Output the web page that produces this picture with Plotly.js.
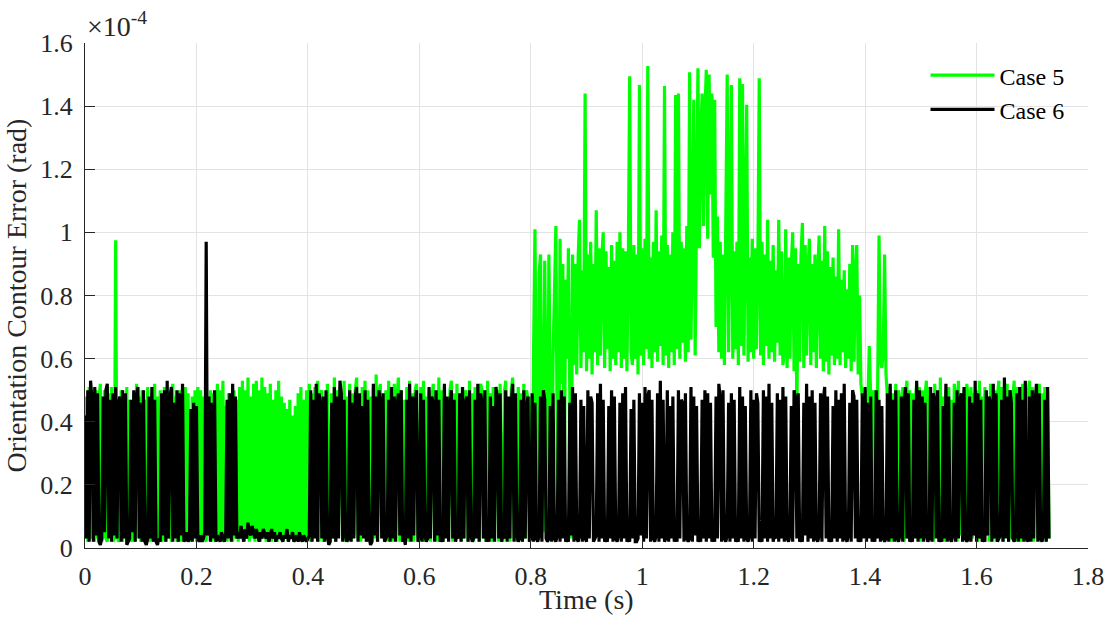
<!DOCTYPE html>
<html>
<head>
<meta charset="utf-8">
<script src="https://cdn.plot.ly/plotly-3.0.1.min.js"></script>
<style>
html,body{margin:0;padding:0;background:#fff;}
#chart{width:1112px;height:634px;}
#chart text{font-family:"Liberation Serif","Times New Roman",serif !important;}
</style>
</head>
<body>
<div id="chart"></div>
<script>
// Sampling interval of the recorded signals (s)
const sampleStep = 0.0025;

// Case 5 orientation contour error, in units of 1e-4 rad (one row = 0.05 s)
const case5 = [
0.03,0.48,0.02,0.51,0.04,0.03,0.49,0.02,0.50,0.03,0.47,0.52,0.02,0.04,0.50,0.03,0.02,0.49,0.04,0.51,
0.02,0.03,0.975,0.04,0.02,0.03,0.50,0.02,0.48,0.03,0.51,0.04,0.47,0.02,0.03,0.49,0.02,0.52,0.03,0.48,
0.02,0.50,0.04,0.47,0.03,0.51,0.02,0.03,0.49,0.02,0.52,0.04,0.48,0.03,0.50,0.02,0.03,0.51,0.02,0.47,
0.03,0.49,0.02,0.52,0.04,0.48,0.02,0.03,0.50,0.02,0.47,0.03,0.51,0.02,0.49,0.04,0.02,0.48,0.03,0.50,
0.02,0.51,0.03,0.50,0.02,0.48,0.03,0.02,0.47,0.04,0.50,0.02,0.49,0.03,0.02,0.52,0.03,0.50,0.02,0.53,
0.03,0.45,0.02,0.49,0.04,0.46,0.02,0.50,0.03,0.47,0.02,0.51,0.04,0.53,0.02,0.50,0.03,0.54,0.02,0.48,
0.03,0.52,0.02,0.53,0.04,0.50,0.02,0.54,0.03,0.51,0.02,0.49,0.04,0.52,0.02,0.47,0.03,0.50,0.02,0.53,
0.04,0.48,0.02,0.46,0.03,0.44,0.02,0.47,0.04,0.42,0.02,0.45,0.03,0.49,0.02,0.51,0.04,0.47,0.02,0.50,
0.03,0.52,0.02,0.49,0.04,0.51,0.03,0.53,0.02,0.48,0.50,0.02,0.47,0.03,0.52,0.04,0.02,0.49,0.03,0.54,
0.02,0.50,0.04,0.51,0.47,0.03,0.53,0.02,0.48,0.03,0.52,0.02,0.49,0.04,0.50,0.54,0.03,0.47,0.02,0.51,
0.04,0.53,0.02,0.50,0.03,0.48,0.02,0.51,0.03,0.55,0.02,0.49,0.52,0.04,0.47,0.03,0.50,0.02,0.53,0.03,
0.49,0.02,0.52,0.03,0.48,0.54,0.02,0.50,0.04,0.47,0.03,0.51,0.02,0.53,0.03,0.49,0.02,0.50,0.52,0.04,
0.02,0.51,0.03,0.53,0.02,0.48,0.04,0.50,0.02,0.47,0.52,0.03,0.49,0.02,0.54,0.03,0.50,0.02,0.51,0.04,
0.47,0.03,0.50,0.53,0.02,0.49,0.03,0.52,0.04,0.48,0.02,0.51,0.03,0.50,0.47,0.02,0.53,0.03,0.49,0.02,
0.51,0.04,0.48,0.02,0.52,0.50,0.03,0.47,0.02,0.53,0.04,0.49,0.02,0.51,0.03,0.48,0.50,0.02,0.52,0.03,
0.02,0.49,0.53,0.03,0.47,0.02,0.50,0.54,0.03,0.48,0.02,0.51,0.04,0.49,0.02,0.52,0.03,0.50,0.47,0.03,
0.48,0.03,0.62,1.01,0.45,0.08,0.87,0.93,0.40,0.05,0.91,0.55,0.04,0.93,0.50,0.06,0.60,0.88,1.02,0.30,
0.04,0.98,0.52,0.90,0.08,0.85,0.60,0.95,0.48,0.03,0.93,0.58,0.90,0.55,0.92,1.04,0.57,0.88,0.62,1.44,
0.56,0.93,0.60,0.97,0.55,0.90,0.62,1.07,0.58,0.95,0.61,0.92,1.00,0.57,0.94,0.63,0.89,0.56,0.96,0.60,
0.91,0.58,0.97,0.62,1.00,0.57,0.95,0.60,0.94,0.56,0.90,1.495,0.62,0.58,0.96,0.60,0.93,0.55,1.467,0.61,
0.95,0.58,0.98,0.63,1.527,0.60,0.92,0.57,0.97,0.62,1.07,0.59,0.94,0.64,0.99,0.58,1.464,0.61,0.96,0.57,
0.93,0.62,1.00,0.58,1.435,0.63,1.44,0.60,0.97,0.65,0.95,0.59,1.02,0.62,1.507,0.66,0.98,1.42,0.61,1.05,
1.52,0.95,1.30,1.44,1.02,1.38,1.515,0.98,1.50,1.12,1.44,0.92,1.42,0.70,1.05,0.62,0.97,0.60,0.93,0.58,
0.95,1.50,0.62,0.99,1.467,0.60,0.94,0.63,0.97,0.58,1.488,0.64,1.47,0.61,0.96,1.404,0.59,0.92,0.62,0.98,
0.60,0.95,0.63,0.90,1.488,0.61,0.97,0.58,0.93,0.64,1.04,0.60,0.91,0.62,0.96,0.59,0.88,0.65,1.04,0.61,
0.94,0.58,0.62,1.01,0.57,0.92,0.60,0.89,1.00,0.56,0.95,0.42,0.90,0.59,0.93,1.03,0.57,0.96,0.61,0.88,
0.98,0.58,0.90,0.62,0.93,0.57,0.87,0.99,0.60,0.91,0.56,1.02,0.59,0.94,0.55,0.89,0.61,0.92,0.58,0.86,
0.60,1.01,0.58,0.85,0.62,0.88,0.57,0.82,0.60,0.90,0.56,0.96,0.59,0.87,0.96,0.55,0.80,0.52,0.48,0.45,
0.04,0.50,0.46,0.64,0.48,0.03,0.50,0.47,0.03,0.55,0.99,0.60,0.57,0.62,0.93,0.55,0.48,0.03,0.51,0.02,
0.49,0.03,0.52,0.02,0.50,0.47,0.04,0.51,0.02,0.48,0.53,0.03,0.50,0.02,0.49,0.04,0.47,0.52,0.03,0.51,
0.02,0.50,0.04,0.48,0.53,0.02,0.51,0.03,0.47,0.02,0.52,0.04,0.49,0.02,0.54,0.03,0.48,0.02,0.50,0.03,
0.51,0.02,0.47,0.03,0.52,0.49,0.02,0.53,0.04,0.48,0.02,0.50,0.03,0.52,0.47,0.02,0.51,0.03,0.49,0.04,
0.50,0.02,0.53,0.03,0.48,0.02,0.51,0.04,0.47,0.02,0.52,0.49,0.03,0.50,0.02,0.48,0.53,0.03,0.51,0.02,
0.49,0.04,0.52,0.02,0.50,0.03,0.47,0.53,0.02,0.51,0.04,0.48,0.02,0.52,0.03,0.50,0.02,0.49,0.53,0.03,
0.51,0.02,0.48,0.50,0.03,0.52,0.02,0.49,0.04,0.51,0.02,0.50,0.03
];

// Case 6 orientation contour error, in units of 1e-4 rad (one row = 0.05 s)
const case6 = [
0.42,0.03,0.50,0.02,0.53,0.47,0.02,0.51,0.04,0.49,0.02,0.01,0.03,0.48,0.05,0.50,0.52,0.03,0.47,0.02,
0.49,0.04,0.51,0.03,0.46,0.48,0.02,0.50,0.03,0.49,0.01,0.02,0.03,0.47,0.05,0.50,0.02,0.48,0.51,0.03,
0.46,0.02,0.50,0.02,0.01,0.03,0.48,0.03,0.51,0.02,0.47,0.02,0.01,0.03,0.02,0.49,0.04,0.50,0.02,0.53,
0.03,0.48,0.51,0.02,0.46,0.03,0.50,0.02,0.49,0.04,0.52,0.02,0.03,0.05,0.02,0.03,0.44,0.02,0.46,0.03,
0.45,0.03,0.02,0.04,0.02,0.03,0.05,0.97,0.04,0.48,0.02,0.46,0.03,0.50,0.02,0.04,0.03,0.02,0.05,0.03,
0.02,0.04,0.47,0.03,0.49,0.02,0.52,0.04,0.48,0.03,0.05,0.03,0.07,0.04,0.02,0.06,0.03,0.08,0.05,0.04,
0.07,0.05,0.03,0.06,0.04,0.02,0.05,0.03,0.06,0.04,0.03,0.05,0.02,0.04,0.06,0.03,0.05,0.02,0.04,0.03,
0.05,0.03,0.02,0.04,0.03,0.06,0.02,0.04,0.03,0.05,0.02,0.03,0.04,0.02,0.05,0.03,0.02,0.04,0.03,0.02,
0.03,0.04,0.50,0.02,0.47,0.03,0.52,0.02,0.49,0.45,0.03,0.48,0.02,0.50,0.04,0.01,0.02,0.46,0.03,0.51,
0.02,0.48,0.03,0.53,0.49,0.02,0.47,0.04,0.02,0.03,0.50,0.02,0.46,0.03,0.48,0.51,0.02,0.49,0.04,0.45,
0.03,0.50,0.02,0.47,0.03,0.01,0.02,0.52,0.04,0.48,0.02,0.50,0.46,0.03,0.49,0.02,0.03,0.04,0.47,0.02,
0.51,0.03,0.48,0.02,0.45,0.49,0.04,0.50,0.02,0.03,0.01,0.47,0.03,0.52,0.02,0.48,0.04,0.46,0.50,0.02,
0.03,0.49,0.02,0.47,0.04,0.02,0.03,0.51,0.03,0.48,0.46,0.02,0.50,0.04,0.47,0.02,0.03,0.02,0.52,0.03,
0.48,0.02,0.45,0.50,0.03,0.47,0.02,0.04,0.03,0.49,0.02,0.51,0.03,0.46,0.48,0.02,0.50,0.04,0.02,0.03,
0.47,0.03,0.52,0.02,0.49,0.46,0.03,0.50,0.02,0.04,0.02,0.48,0.03,0.45,0.02,0.51,0.47,0.03,0.49,0.02,
0.04,0.03,0.50,0.02,0.48,0.03,0.46,0.52,0.02,0.49,0.04,0.02,0.03,0.47,0.02,0.50,0.03,0.45,0.48,0.02,
0.03,0.49,0.02,0.46,0.03,0.02,0.04,0.48,0.02,0.50,0.47,0.03,0.02,0.03,0.45,0.02,0.49,0.03,0.02,0.04,
0.47,0.02,0.50,0.03,0.48,0.02,0.03,0.02,0.46,0.04,0.51,0.02,0.49,0.03,0.02,0.04,0.47,0.02,0.45,0.03,
0.02,0.50,0.03,0.48,0.46,0.02,0.03,0.04,0.49,0.02,0.52,0.03,0.47,0.02,0.03,0.02,0.45,0.03,0.50,0.02,
0.48,0.03,0.02,0.04,0.46,0.02,0.49,0.03,0.51,0.02,0.03,0.02,0.44,0.03,0.47,0.02,0.02,0.03,0.49,0.04,
0.46,0.02,0.51,0.03,0.48,0.50,0.02,0.47,0.03,0.02,0.04,0.49,0.02,0.53,0.03,0.47,0.02,0.03,0.50,0.02,
0.45,0.03,0.48,0.02,0.04,0.02,0.50,0.03,0.47,0.46,0.02,0.49,0.03,0.02,0.03,0.51,0.02,0.48,0.04,0.45,
0.02,0.03,0.02,0.47,0.03,0.50,0.02,0.49,0.03,0.46,0.02,0.04,0.02,0.48,0.03,0.52,0.47,0.02,0.50,0.03,
0.02,0.04,0.46,0.02,0.49,0.03,0.47,0.02,0.03,0.02,0.51,0.03,0.48,0.02,0.45,0.03,0.02,0.04,0.50,0.02,
0.47,0.03,0.49,0.46,0.02,0.03,0.02,0.50,0.03,0.48,0.02,0.52,0.03,0.46,0.02,0.04,0.03,0.49,0.02,0.47,
0.03,0.51,0.02,0.48,0.03,0.02,0.04,0.45,0.02,0.50,0.47,0.03,0.49,0.02,0.03,0.02,0.46,0.04,0.52,0.02,
0.48,0.03,0.50,0.02,0.46,0.03,0.02,0.04,0.49,0.02,0.47,0.51,0.03,0.48,0.02,0.03,0.02,0.45,0.03,0.50,
0.02,0.47,0.03,0.49,0.02,0.52,0.03,0.02,0.04,0.46,0.02,0.50,0.48,0.03,0.47,0.02,0.03,0.02,0.49,0.03,
0.51,0.02,0.46,0.03,0.48,0.02,0.04,0.02,0.50,0.03,0.47,0.02,0.45,0.03,0.02,0.03,0.49,0.02,0.52,0.03,
0.47,0.02,0.50,0.03,0.02,0.04,0.48,0.02,0.46,0.51,0.03,0.49,0.02,0.03,0.02,0.47,0.03,0.53,0.02,0.50,
0.03,0.48,0.02,0.46,0.04,0.02,0.03,0.51,0.02,0.49,0.47,0.03,0.50,0.02,0.03,0.02,0.45,0.03,0.52,0.02,
0.48,0.03,0.02,0.04,0.46,0.02,0.50,0.03,0.47,0.49,0.02,0.51,0.03,0.02,0.03,0.48,0.02,0.46,0.04,0.53,
0.02,0.49,0.03,0.47,0.02,0.03,0.02,0.50,0.04,0.48,0.46,0.02,0.52,0.03,0.49,0.02,0.03,0.04,0.47,0.02,
0.54,0.03,0.48,0.02,0.50,0.46,0.03,0.02,0.04,0.49,0.02,0.51,0.03,0.47,0.02,0.53,0.03,0.02,0.48,0.02,
0.50,0.03,0.46,0.52,0.02,0.49,0.03,0.02,0.04,0.47,0.02,0.51,0.03
];

const seriesNames = ["Case 5", "Case 6"];
const seriesColors = ["#00ff00", "#000000"];
const xTickVals = [0,0.2,0.4,0.6,0.8,1,1.2,1.4,1.6,1.8];
const xTickText = ["0","0.2","0.4","0.6","0.8","1","1.2","1.4","1.6","1.8"];
const yTickVals = [0,0.2,0.4,0.6,0.8,1,1.2,1.4,1.6];
const yTickText = ["0","0.2","0.4","0.6","0.8","1","1.2","1.4","1.6"];
const xTitle = "Time (s)";
const yTitle = "Orientation Contour Error (rad)";

function timeAxis(n){ const t=[]; for(let i=0;i<n;i++) t.push(+(i*sampleStep).toFixed(5)); return t; }

const font = "Liberation Serif";
const traces = [case5, case6].map((vals, k) => ({
  x: timeAxis(vals.length), y: vals, name: seriesNames[k], type: "scatter", mode: "lines",
  line: {color: seriesColors[k], width: 3.2}
}));

const axisCommon = {
  showgrid: true, gridcolor: "#e3e3e3", gridwidth: 1,
  zeroline: false, showline: true, linecolor: "#262626", linewidth: 1,
  ticks: "inside", ticklen: 10, tickcolor: "#262626", tickwidth: 1,
  tickfont: {family: font, size: 26, color: "#262626"}, mirror: false, automargin: false
};

const layout = {
  width: 1112, height: 634,
  font: {family: font, size: 24, color: "#262626"},
  margin: {l: 85, r: 24, t: 43, b: 86},
  paper_bgcolor: "#ffffff", plot_bgcolor: "#ffffff",
  showlegend: true,
  legend: {x: 0.838, y: 0.98, xanchor: "left", yanchor: "top",
    bgcolor: "rgba(255,255,255,0)", borderwidth: 0,
    font: {family: font, size: 24, color: "#000"}, itemwidth: 64, tracegroupgap: 0},
  xaxis: Object.assign({}, axisCommon, {
    range: [0, 1.8], tickvals: xTickVals, ticktext: xTickText, ticklabelstandoff: 5
  }),
  yaxis: Object.assign({}, axisCommon, {
    range: [0, 1.6], tickvals: yTickVals, ticktext: yTickText, ticklabelstandoff: 6,
    title: {text: yTitle, font: {family: font, size: 28, color: "#262626"}, standoff: 5}
  }),
  annotations: [
    {xref: "paper", yref: "paper", x: 0, y: 1, xanchor: "left", yanchor: "bottom",
     text: "×10<sup>-4</sup>", showarrow: false, yshift: -1,
     font: {family: font, size: 28, color: "#262626"}},
    {xref: "paper", yref: "paper", x: 0.5, y: 0, xanchor: "center", yanchor: "middle",
     text: xTitle, showarrow: false, yshift: -51,
     font: {family: font, size: 28, color: "#262626"}}
  ],
  hovermode: false
};

Plotly.newPlot("chart", traces, layout, {displayModeBar: false, staticPlot: true});
</script>
</body>
</html>
